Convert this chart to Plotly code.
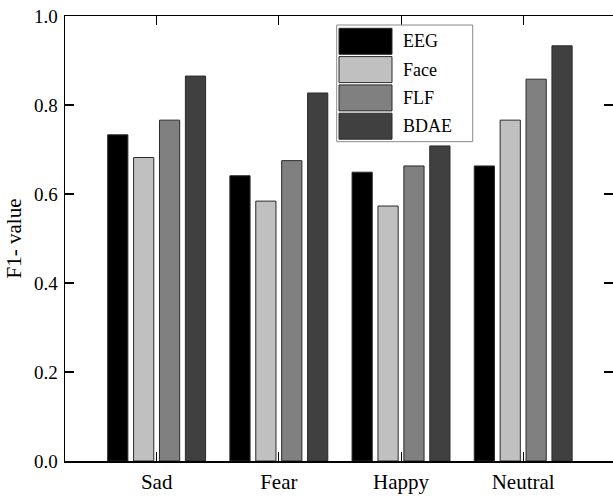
import plotly.graph_objects as go

categories = ["Sad", "Fear", "Happy", "Neutral"]
series_names = ["EEG", "Face", "FLF", "BDAE"]
eeg = [0.733, 0.641, 0.649, 0.663]
face = [0.682, 0.584, 0.573, 0.766]
flf = [0.766, 0.675, 0.663, 0.858]
bdae = [0.865, 0.827, 0.708, 0.933]
series_values = [eeg, face, flf, bdae]
colors = ["#000000", "#c0c0c0", "#808080", "#404040"]
y_ticks = [0.0, 0.2, 0.4, 0.6, 0.8, 1.0]
y_ticktext = ["%.1f" % v for v in y_ticks]

W, H = 613, 497
ML, MR, MT, MB = 65, 0, 16, 36
PW, PH = W - ML - MR, H - MT - MB
FONT = "Liberation Serif, Times New Roman, serif"

fig = go.Figure()
for name, vals, c in zip(series_names, series_values, colors):
    fig.add_bar(x=categories, y=vals, name=name, hoverinfo="skip",
                marker=dict(color=c, line=dict(color="#2a2a2a", width=1)))


def px(x):
    return (x - ML) / PW


def py(y):
    return (H - MB - y) / PH


shapes = [dict(type="rect", xref="paper", yref="paper",
               x0=px(336.7), x1=px(472.7), y0=py(141.7), y1=py(25),
               line=dict(color="#8a8a8a", width=1), fillcolor="white", layer="above")]
annotations = []
row_top = 28.3
row_step = 28.3
for i, (name, c) in enumerate(zip(series_names, colors)):
    t = row_top + i * row_step
    shapes.append(dict(type="rect", xref="paper", yref="paper",
                       x0=px(339), x1=px(392), y0=py(t + 26), y1=py(t),
                       line=dict(color="#2a2a2a", width=1), fillcolor=c, layer="above"))
    annotations.append(dict(xref="paper", yref="paper", x=px(401), y=py(t + 13),
                            text=name, showarrow=False, xanchor="left", yanchor="middle",
                            font=dict(family=FONT, size=18, color="black")))

fig.update_layout(
    width=W, height=H,
    margin=dict(l=ML, r=MR, t=MT, b=MB, pad=0, autoexpand=False),
    plot_bgcolor="white", paper_bgcolor="white",
    showlegend=False,
    bargap=0.152, bargroupgap=0.22,
    shapes=shapes, annotations=annotations,
    font=dict(family=FONT, color="black"),
)
fig.update_xaxes(range=[-0.75, 3.735], showline=True, linecolor="black", linewidth=1.5,
                 mirror="ticks", ticks="inside", ticklen=9, tickwidth=1, tickcolor="black",
                 showgrid=False, automargin=False,
                 tickfont=dict(family=FONT, size=21, color="black"),
                 ticklabelstandoff=1)
fig.update_yaxes(range=[0, 1.0], tickvals=y_ticks, ticktext=y_ticktext,
                 showline=True, linecolor="black", linewidth=1.5,
                 mirror="ticks", ticks="inside", ticklen=9, tickwidth=1.2, tickcolor="black",
                 showgrid=False, zeroline=False, automargin=False,
                 tickfont=dict(family=FONT, size=19, color="black"),
                 ticklabelstandoff=2,
                 title=dict(text="F1- value", font=dict(family=FONT, size=21, color="black"),
                            standoff=6))
fig.write_html("out.html", post_script="document.body.style.margin='0';",
               config={"displayModeBar": False, "staticPlot": True})
